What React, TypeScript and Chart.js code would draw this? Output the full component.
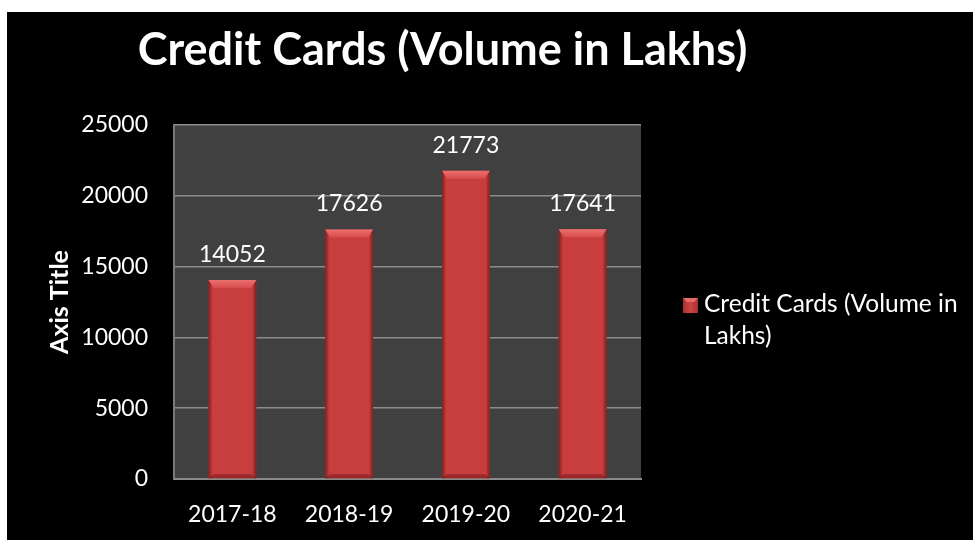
import React, { useEffect, useRef } from 'react';
import { Chart, registerables } from 'chart.js';

Chart.register(...registerables);

const categories = ['2017-18', '2018-19', '2019-20', '2020-21'];
const volumes = [14052, 17626, 21773, 17641];
const yMin = 0;
const yMax = 25000;
const yStep = 5000;
const chartTitle = 'Credit Cards (Volume in Lakhs)';
const seriesName = 'Credit Cards (Volume in Lakhs)';
const legendLines = ['Credit Cards (Volume in', 'Lakhs)'];
const yAxisTitle = 'Axis Title';

const FONT = 'Lato';
const W = 966;
const H = 528;

const plotBgPlugin = {
  id: 'plotBg',
  beforeDraw(chart: any) {
    const { ctx, chartArea } = chart;
    ctx.save();
    ctx.fillStyle = '#404040';
    ctx.fillRect(chartArea.left, chartArea.top, chartArea.right - chartArea.left, chartArea.bottom - chartArea.top);
    ctx.restore();
  },
};

const bevelPlugin = {
  id: 'bevel',
  afterDatasetsDraw(chart: any) {
    const ctx = chart.ctx;
    const meta = chart.getDatasetMeta(0);
    meta.data.forEach((el: any) => {
      const { x, y, base, width } = el.getProps(['x', 'y', 'base', 'width'], true);
      const L = x - width / 2;
      const R = x + width / 2;
      const T = y;
      const B = base;
      const s = 5;
      const b = 8;
      ctx.save();
      const g = ctx.createLinearGradient(L, 0, R, 0);
      g.addColorStop(0, 'rgba(80,10,10,0.6)');
      g.addColorStop(0.09, 'rgba(80,10,10,0.0)');
      g.addColorStop(0.91, 'rgba(80,10,10,0.0)');
      g.addColorStop(1, 'rgba(80,10,10,0.6)');
      ctx.fillStyle = g;
      ctx.fillRect(L, T, width, B - T);
      const tg = ctx.createLinearGradient(0, T, 0, T + b);
      tg.addColorStop(0, '#ec7070');
      tg.addColorStop(1, '#d84c4c');
      ctx.beginPath();
      ctx.moveTo(L, T);
      ctx.lineTo(R, T);
      ctx.lineTo(R - s, T + b);
      ctx.lineTo(L + s, T + b);
      ctx.closePath();
      ctx.fillStyle = tg;
      ctx.fill();
      ctx.beginPath();
      ctx.moveTo(L, B);
      ctx.lineTo(R, B);
      ctx.lineTo(R - s, B - 4);
      ctx.lineTo(L + s, B - 4);
      ctx.closePath();
      ctx.fillStyle = 'rgba(110,20,20,0.5)';
      ctx.fill();
      ctx.restore();
    });
  },
};

const labelsPlugin = {
  id: 'valueLabels',
  afterDatasetsDraw(chart: any) {
    const ctx = chart.ctx;
    const meta = chart.getDatasetMeta(0);
    const data = chart.data.datasets[0].data;
    ctx.save();
    ctx.fillStyle = '#ffffff';
    ctx.font = `23px ${FONT}`;
    ctx.textAlign = 'center';
    ctx.textBaseline = 'alphabetic';
    meta.data.forEach((el: any, i: number) => {
      const { x, y } = el.getProps(['x', 'y'], true);
      ctx.fillText(String(data[i]), x, y - 18);
    });
    ctx.restore();
  },
};

const titleLegendPlugin = {
  id: 'titleLegend',
  afterDraw(chart: any) {
    const ctx = chart.ctx;
    ctx.save();
    ctx.fillStyle = '#ffffff';
    ctx.font = `bold 45px ${FONT}`;
    ctx.textAlign = 'center';
    ctx.textBaseline = 'alphabetic';
    ctx.fillText(chartTitle, 435.5, 53);

    // legend marker
    const mx = 676, my = 286, ms = 15;
    const mg = ctx.createLinearGradient(mx, 0, mx + ms, 0);
    mg.addColorStop(0, '#a83030');
    mg.addColorStop(0.5, '#d04444');
    mg.addColorStop(1, '#a83030');
    ctx.fillStyle = mg;
    ctx.fillRect(mx, my, ms, ms);
    ctx.beginPath();
    ctx.moveTo(mx, my);
    ctx.lineTo(mx + ms, my);
    ctx.lineTo(mx + ms - 4, my + 4);
    ctx.lineTo(mx + 4, my + 4);
    ctx.closePath();
    ctx.fillStyle = '#e86a6a';
    ctx.fill();

    ctx.fillStyle = '#ffffff';
    ctx.font = `24.5px ${FONT}`;
    ctx.textAlign = 'left';
    ctx.fillText(legendLines[0], 697, 300);
    ctx.fillText(legendLines[1], 697, 332);
    ctx.restore();
  },
};

export default function App() {
  const ref = useRef<HTMLCanvasElement | null>(null);

  useEffect(() => {
    if (!ref.current) return;
    const chart = new Chart(ref.current, {
      type: 'bar',
      data: {
        labels: categories,
        datasets: [
          {
            label: seriesName,
            data: volumes,
            backgroundColor: '#c83e3e',
            borderWidth: 0,
            barPercentage: 0.41,
            categoryPercentage: 1.0,
          },
        ],
      },
      options: {
        responsive: false,
        animation: false,
        devicePixelRatio: 1,
        layout: { padding: { left: 0, right: 332, top: 113, bottom: 0 } },
        plugins: {
          legend: { display: false },
          title: { display: false },
          tooltip: { enabled: false },
        },
        scales: {
          x: {
            grid: { display: false, drawTicks: false },
            border: { display: true, color: '#8a8a8a', width: 2 },
            ticks: { color: '#ffffff', font: { family: FONT, size: 23 }, padding: 22 },
            afterFit: (s: any) => {
              s.height = 61;
            },
          },
          y: {
            min: yMin,
            max: yMax,
            ticks: {
              stepSize: yStep,
              color: '#ffffff',
              font: { family: FONT, size: 23 },
              padding: 26,
              callback: (v: any) => String(v),
            },
            grid: { color: '#8c8c8c', lineWidth: 1.5, drawTicks: false },
            border: { display: true, color: '#7a7a7a', width: 2 },
            title: {
              display: true,
              text: yAxisTitle,
              color: '#ffffff',
              font: { family: FONT, size: 25, weight: 'bold' },
              padding: { top: 38, bottom: 0 },
            },
            afterFit: (s: any) => {
              s.width = 167;
            },
          },
        },
      },
      plugins: [plotBgPlugin, bevelPlugin, labelsPlugin, titleLegendPlugin],
    });
    return () => chart.destroy();
  }, []);

  return (
    <div style={{ position: 'absolute', left: 0, top: 0, width: 973, height: 540, background: '#ffffff' }}>
      <div style={{ position: 'absolute', left: 7, top: 12, width: W, height: H, background: '#000000' }}>
        <canvas ref={ref} width={W} height={H} style={{ display: 'block', width: W, height: H }} />
      </div>
    </div>
  );
}
